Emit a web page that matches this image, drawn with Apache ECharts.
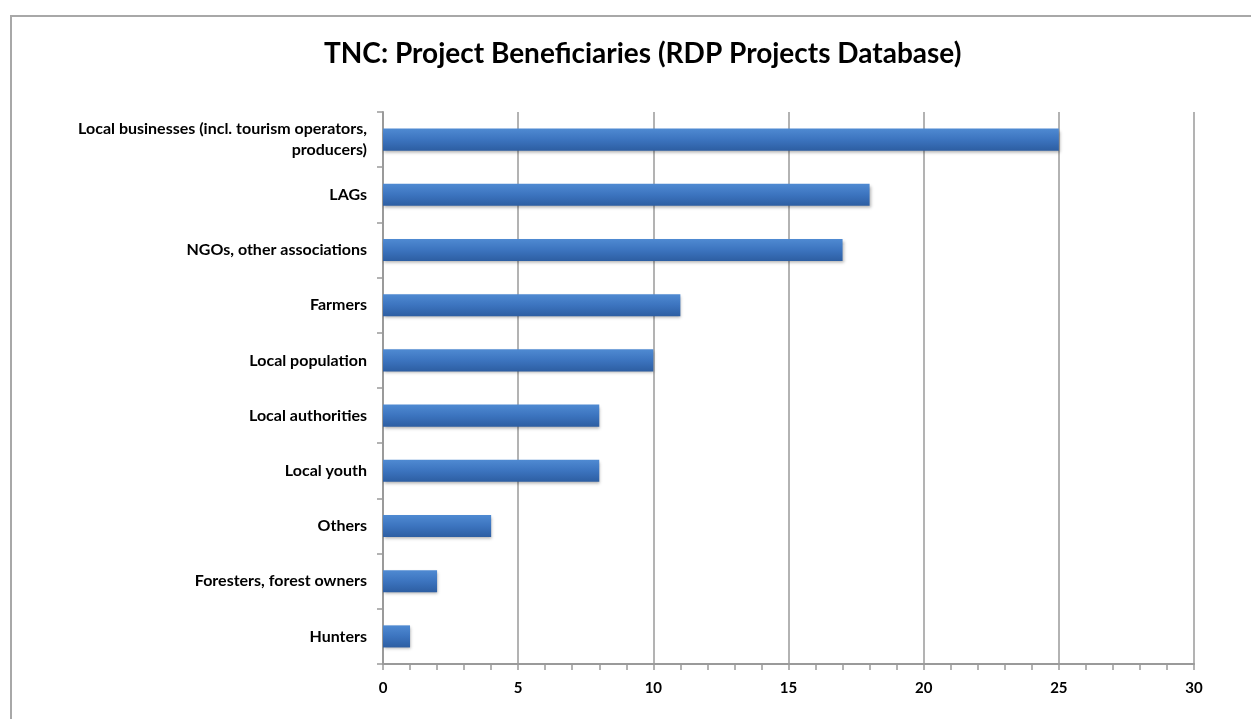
<!DOCTYPE html>
<html>
<head>
<meta charset="utf-8">
<style>
  html, body { margin: 0; padding: 0; background: #fff; }
  #main { width: 1251px; height: 719px; }
</style>
<script src="https://cdn.jsdelivr.net/npm/echarts@6/dist/echarts.min.js"></script>
</head>
<body>
<div id="main"></div>
<script>
// categories, bottom to top (category axis starts from bottom)
const categories = [
    'Hunters',
    'Foresters, forest owners',
    'Others',
    'Local youth',
    'Local authorities',
    'Local population',
    'Farmers',
    'NGOs, other associations',
    'LAGs',
    'Local businesses (incl. tourism operators,\nproducers)'
]
const values = [1, 2, 4, 8, 8, 10, 11, 17, 18, 25]
const xTicks = [0, 5, 10, 15, 20, 25, 30]

const fontFamily = 'Lato, "Open Sans", sans-serif'

let myChart = echarts.init(document.getElementById('main'))
let option = {
    animation: false,
    title: {
        text: 'TNC: Project Beneficiaries (RDP Projects Database)',
        left: 319,
        top: 35,
        textStyle: { fontFamily: fontFamily, fontSize: 28, fontWeight: 'bold', color: '#000' }
    },
    // frame round the chart area
    graphic: [{
        type: 'rect',
        shape: { x: 11, y: 16, width: 1400, height: 900 },
        style: { fill: 'none', stroke: '#a8a8a8', lineWidth: 2 },
        silent: true
    }],
    grid: { left: 383, right: 57, top: 112, bottom: 55 },
    xAxis: {
        type: 'value',
        min: xTicks[0],
        max: xTicks[xTicks.length - 1],
        interval: 5,
        axisLine: { show: true, lineStyle: { color: '#9a9a9a', width: 2 } },
        axisTick: { show: true, length: 6, lineStyle: { color: '#9a9a9a', width: 1.5 } },
        minorTick: { show: true, splitNumber: 5, length: 6, lineStyle: { color: '#9a9a9a', width: 1.5 } },
        splitLine: { show: true, lineStyle: { color: '#9a9a9a', width: 1.5 } },
        axisLabel: { color: '#000', fontFamily: fontFamily, fontWeight: 'bold', fontSize: 15, margin: 17 }
    },
    yAxis: {
        type: 'category',
        data: categories,
        axisLine: { show: true, lineStyle: { color: '#9a9a9a', width: 2 } },
        axisTick: { show: true, length: 6, lineStyle: { color: '#9a9a9a', width: 1.5 } },
        axisLabel: {
            color: '#000', fontFamily: fontFamily, fontWeight: 'bold', fontSize: 16,
            margin: 16, lineHeight: 21, align: 'right', padding: [7, 0, 0, 0]
        }
    },
    series: [{
        type: 'bar',
        data: values,
        barWidth: '40%',
        itemStyle: {
            color: new echarts.graphic.LinearGradient(0, 0, 0, 1, [
                { offset: 0, color: '#4f8ad2' },
                { offset: 0.5, color: '#3c74bf' },
                { offset: 1, color: '#2d5ea2' }
            ]),
            shadowColor: 'rgba(0,0,0,0.3)',
            shadowBlur: 3,
            shadowOffsetX: 1,
            shadowOffsetY: 2
        }
    }]
}
myChart.setOption(option)
</script>
</body>
</html>
